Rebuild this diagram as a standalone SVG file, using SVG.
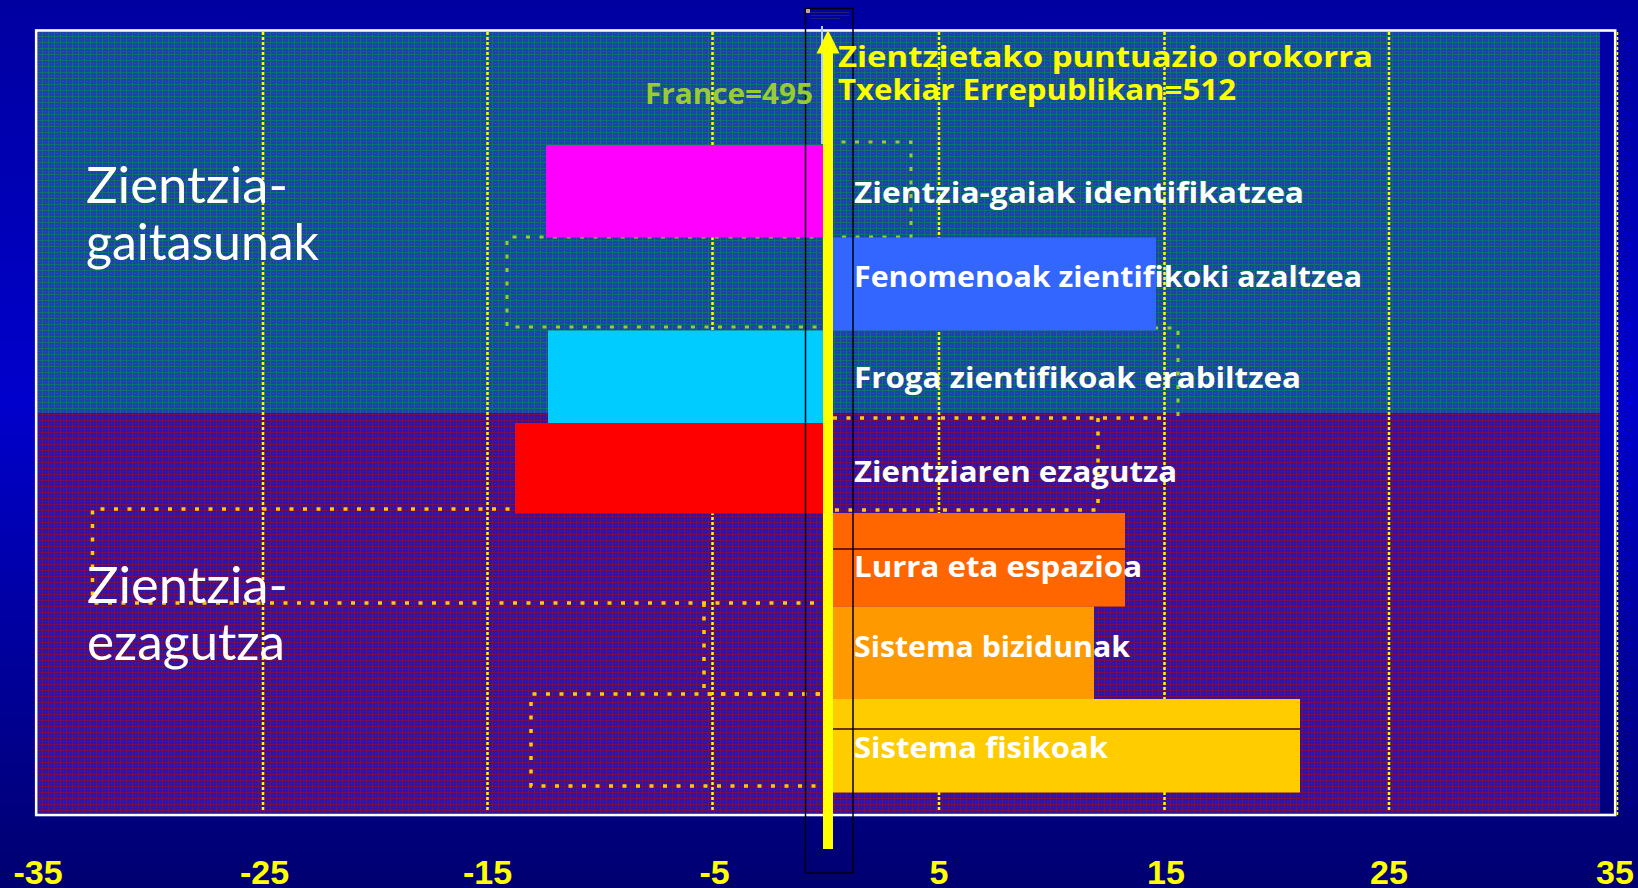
<svg xmlns="http://www.w3.org/2000/svg" width="1638" height="888" viewBox="0 0 1638 888">
<defs>
<linearGradient id="bg" x1="0" y1="0" x2="0" y2="1">
<stop offset="0" stop-color="#0000a0"/>
<stop offset="0.45" stop-color="#0000cc"/>
<stop offset="1" stop-color="#000070"/>
</linearGradient>
<pattern id="texUp" width="6" height="6" patternUnits="userSpaceOnUse">
<rect width="6" height="6" fill="#1e40b0"/>
<rect width="1" height="6" fill="#0c7466"/>
<rect width="6" height="1" fill="#0c7466"/>
<rect x="3" y="3" width="1" height="1" fill="#2a5ab0"/>
</pattern>
<pattern id="texLow" width="6" height="6" patternUnits="userSpaceOnUse">
<rect width="6" height="6" fill="#2c14ac"/>
<rect width="1" height="6" fill="#780f4c"/>
<rect width="6" height="1" fill="#780f4c"/>
<rect x="3" y="3" width="1" height="1" fill="#4a1a9a"/>
</pattern>
<style>
.grid{stroke:#ffff00;stroke-width:2.5;stroke-dasharray:3 2;fill:none}
.fr{stroke:#99cc33;stroke-width:3;stroke-dasharray:4 9.5;fill:none}
.cz{stroke:#ffcc00;stroke-width:3.5;stroke-dasharray:4 9.5;fill:none}
.big{font-family:Lato,"Open Sans",sans-serif;font-size:50px;fill:#ffffff}
.lab{font-family:"Open Sans",Lato,sans-serif;font-size:28px;font-weight:bold;fill:#ffffff}
.ttl{font-family:"Open Sans",Lato,sans-serif;font-size:28px;font-weight:bold;fill:#ffff00}
.ax{font-family:"Liberation Sans",Arial,sans-serif;font-size:34px;font-weight:bold;fill:#ffff00;text-anchor:middle}
.sep{stroke:#3a0010;stroke-width:1.5}
</style>
</defs>
<rect width="1638" height="888" fill="url(#bg)"/>
<g id="plot-area">
<rect x="37.5" y="31.5" width="1562.5" height="381" fill="url(#texUp)" shape-rendering="crispEdges"/>
<rect x="37.5" y="412.5" width="1562.5" height="400" fill="url(#texLow)" shape-rendering="crispEdges"/>
<rect x="36.2" y="30.5" width="1579" height="784.5" fill="none" stroke="#ffffff" stroke-width="2.6"/>
</g>
<g id="gridlines">
<line class="grid" x1="263" y1="32" x2="263" y2="812"/>
<line class="grid" x1="487.5" y1="32" x2="487.5" y2="812"/>
<line class="grid" x1="712.5" y1="32" x2="712.5" y2="812"/>
<line class="grid" x1="939" y1="32" x2="939" y2="812"/>
<line class="grid" x1="1164.5" y1="32" x2="1164.5" y2="812"/>
<line class="grid" x1="1389" y1="32" x2="1389" y2="812"/>
<line x1="1617.5" y1="32" x2="1617.5" y2="815" stroke="#ffff00" stroke-width="1.5" stroke-dasharray="3 2"/>
</g>
<g id="connectors">
<path class="fr" d="M828 142 H911 V237 H828"/>
<path class="fr" d="M827 237 H507 V327 H827"/>
<path class="fr" d="M830 328 H1178 V416"/>
<path class="cz" d="M833 418 H1170"/>
<path class="cz" d="M1098 418 V510 H833"/>
<path class="cz" d="M820 509 H92.5 V603 H820"/>
<path class="cz" d="M704 603 V694 H820"/>
<path class="cz" d="M820 694 H531 V786 H820"/>
</g>
<g id="bars">
<rect id="bar-gaiak" x="546" y="145" width="282" height="92.5" fill="#ff00ff"/>
<rect id="bar-fenomenoak" x="828" y="237.5" width="328" height="93" fill="#3366ff"/>
<rect id="bar-froga" x="548" y="330.5" width="280" height="92.5" fill="#00ccff"/>
<rect id="bar-ezagutza" x="515" y="423" width="313" height="90.5" fill="#ff0000"/>
<rect id="bar-lurra" x="828" y="513" width="297" height="93.5" fill="#ff6600"/>
<rect id="bar-bizidunak" x="828" y="606.5" width="266" height="92.5" fill="#ff9900"/>
<rect id="bar-fisikoak" x="828" y="699" width="472" height="93.5" fill="#ffcc00"/>
<line class="sep" x1="833" y1="549" x2="1125" y2="549"/>
<line class="sep" x1="833" y1="729" x2="1300" y2="729"/>
</g>
<g id="axis-arrow">
<rect x="821" y="26" width="2" height="118" fill="#a8d8e8"/>
<rect x="823" y="50" width="10" height="799" fill="#ffff00"/>
<polygon points="816.5,53.5 828,30 839.5,53.5" fill="#ffff00"/>
</g>
<g id="selection-frame">
<rect x="805.5" y="8.5" width="47.5" height="864.5" fill="none" stroke="#000010" stroke-width="1.5"/>
<rect x="806" y="9" width="4" height="4" fill="#c8a0a0"/>
<line x1="811" y1="12.5" x2="849" y2="12.5" stroke="#202070" stroke-width="1"/>
<line x1="811" y1="15.5" x2="849" y2="15.5" stroke="#202070" stroke-width="1"/>
<line x1="811" y1="18.5" x2="840" y2="18.5" stroke="#202070" stroke-width="1"/>
</g>
<g id="group-labels">
<text class="big" x="86" y="203" textLength="202" lengthAdjust="spacingAndGlyphs">Zientzia-</text>
<text class="big" x="86" y="260" textLength="233" lengthAdjust="spacingAndGlyphs">gaitasunak</text>
<text class="big" x="87" y="603" textLength="201" lengthAdjust="spacingAndGlyphs">Zientzia-</text>
<text class="big" x="87" y="660" textLength="198" lengthAdjust="spacingAndGlyphs">ezagutza</text>
</g>
<g id="titles">
<text class="ttl" x="838" y="67" textLength="535" lengthAdjust="spacingAndGlyphs">Zientzietako puntuazio orokorra</text>
<text class="ttl" x="838" y="100" textLength="398" lengthAdjust="spacingAndGlyphs">Txekiar Errepublikan=512</text>
<text x="645" y="104" textLength="168" lengthAdjust="spacingAndGlyphs" style="font-family:'Open Sans',Lato,sans-serif;font-size:29px;font-weight:bold;fill:#99cc33">France=495</text>
</g>
<g id="bar-labels">
<text class="lab" x="854" y="203" textLength="450" lengthAdjust="spacingAndGlyphs">Zientzia-gaiak identifikatzea</text>
<text class="lab" x="854" y="287" textLength="508" lengthAdjust="spacingAndGlyphs">Fenomenoak zientifikoki azaltzea</text>
<text class="lab" x="854" y="388" textLength="447" lengthAdjust="spacingAndGlyphs">Froga zientifikoak erabiltzea</text>
<text class="lab" x="854" y="482" textLength="323" lengthAdjust="spacingAndGlyphs">Zientziaren ezagutza</text>
<text class="lab" x="854" y="577" textLength="288" lengthAdjust="spacingAndGlyphs">Lurra eta espazioa</text>
<text class="lab" x="854" y="657" textLength="276" lengthAdjust="spacingAndGlyphs">Sistema bizidunak</text>
<text class="lab" x="854" y="758" textLength="254" lengthAdjust="spacingAndGlyphs">Sistema fisikoak</text>
</g>
<g id="x-axis-labels">
<text class="ax" x="38" y="884">-35</text>
<text class="ax" x="264.5" y="884">-25</text>
<text class="ax" x="487.5" y="884">-15</text>
<text class="ax" x="714.5" y="884">-5</text>
<text class="ax" x="939" y="884">5</text>
<text class="ax" x="1166" y="884">15</text>
<text class="ax" x="1389" y="884">25</text>
<text class="ax" x="1615" y="884">35</text>
</g>
</svg>
